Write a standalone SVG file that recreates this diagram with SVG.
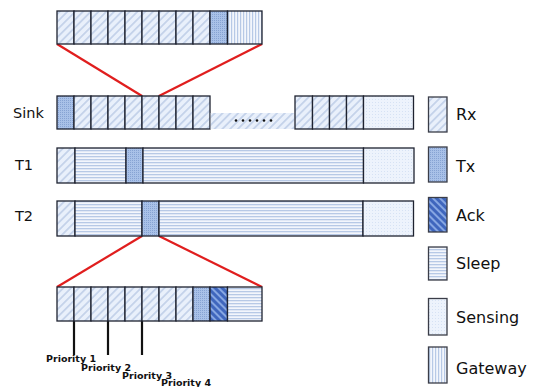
<svg xmlns="http://www.w3.org/2000/svg" width="535" height="387" viewBox="0 0 535 387">
  <defs>
    <!-- Rx: light blue with "/" hatching -->
    <pattern id="pRx" width="5.5" height="5.5" patternUnits="userSpaceOnUse" patternTransform="rotate(45)">
      <rect width="5.5" height="5.5" fill="#e9f0fb"/>
      <rect width="1.8" height="5.5" fill="#c4d2ea"/>
    </pattern>
    <!-- Tx: medium blue, fine dots -->
    <pattern id="pTx" width="2" height="2" patternUnits="userSpaceOnUse">
      <rect width="2" height="2" fill="#a9c1e8"/>
      <rect width="1" height="1" fill="#87a3d3"/>
    </pattern>
    <!-- Ack: strong blue with "\" stripes -->
    <pattern id="pAck" width="5" height="5" patternUnits="userSpaceOnUse" patternTransform="rotate(-45)">
      <rect width="5" height="5" fill="#3f66bd"/>
      <rect width="2" height="5" fill="#86a6e2"/>
    </pattern>
    <!-- Sleep: horizontal lines -->
    <pattern id="pSleep" width="4" height="3" patternUnits="userSpaceOnUse">
      <rect width="4" height="3" fill="#f3f6fc"/>
      <rect width="4" height="1.3" fill="#b7c9e6"/>
    </pattern>
    <!-- Sensing: very light blue, faint dots -->
    <pattern id="pSense" width="3" height="3" patternUnits="userSpaceOnUse">
      <rect width="3" height="3" fill="#edf3fc"/>
      <rect width="1" height="1" fill="#d6e2f4"/>
    </pattern>
    <!-- Gateway: vertical lines -->
    <pattern id="pGw" width="3" height="4" patternUnits="userSpaceOnUse">
      <rect width="3" height="4" fill="#f3f6fc"/>
      <rect width="1.2" height="4" fill="#b7c9e6"/>
    </pattern>
  </defs>
  <style>
    rect.c { stroke: #1e2230; stroke-width: 1.3; }
    .rx { fill: url(#pRx); }
    .tx { fill: url(#pTx); }
    .ack { fill: url(#pAck); }
    .sl { fill: url(#pSleep); }
    .se { fill: url(#pSense); }
    .gw { fill: url(#pGw); }
    rect.lg { stroke: #3a3d48; stroke-width: 1.3; }
    .row { font-family: "DejaVu Sans", "Liberation Sans", sans-serif; font-size: 14.5px; fill: #111; }
    .leg { font-family: "DejaVu Sans", "Liberation Sans", sans-serif; font-size: 16px; fill: #111; }
    .pri { font-family: "DejaVu Sans", "Liberation Sans", sans-serif; font-size: 9.5px; font-weight: bold; fill: #111; }
    .zoom { stroke: #e01e1e; stroke-width: 2.2; fill: none; }
    .tick { stroke: #111; stroke-width: 2.2; }
  </style>

  <!-- connectors: zoom guides and priority markers -->
  <g id="connectors">
    <line class="zoom" x1="57" y1="44" x2="142" y2="96"/>
    <line class="zoom" x1="262" y1="44" x2="159" y2="96"/>
    <line class="zoom" x1="142" y1="236" x2="57" y2="287"/>
    <line class="zoom" x1="159" y1="236" x2="262" y2="287"/>
    <line class="tick" x1="74" y1="321" x2="74" y2="355"/>
    <line class="tick" x1="108" y1="321" x2="108" y2="355"/>
    <line class="tick" x1="142" y1="321" x2="142" y2="355"/>
  </g>

  <!-- expanded slot of the sink frame -->
  <g id="slot-top">
    <rect class="c rx" x="57" y="11" width="17" height="33"/>
    <rect class="c rx" x="74" y="11" width="17" height="33"/>
    <rect class="c rx" x="91" y="11" width="17" height="33"/>
    <rect class="c rx" x="108" y="11" width="17" height="33"/>
    <rect class="c rx" x="125" y="11" width="17" height="33"/>
    <rect class="c rx" x="142" y="11" width="17" height="33"/>
    <rect class="c rx" x="159" y="11" width="17" height="33"/>
    <rect class="c rx" x="176" y="11" width="17" height="33"/>
    <rect class="c rx" x="193" y="11" width="17" height="33"/>
    <rect class="c tx" x="210" y="11" width="17.5" height="33"/>
    <rect class="c gw" x="227.5" y="11" width="34.5" height="33"/>
  </g>

  <!-- Sink frame -->
  <g id="sink">
    <text class="row" x="13" y="118">Sink</text>
    <rect class="c tx" x="57" y="96" width="17" height="33"/>
    <rect class="c rx" x="74" y="96" width="17" height="33"/>
    <rect class="c rx" x="91" y="96" width="17" height="33"/>
    <rect class="c rx" x="108" y="96" width="17" height="33"/>
    <rect class="c rx" x="125" y="96" width="17" height="33"/>
    <rect class="c rx" x="142" y="96" width="17" height="33"/>
    <rect class="c rx" x="159" y="96" width="17" height="33"/>
    <rect class="c rx" x="176" y="96" width="17" height="33"/>
    <rect class="c rx" x="193" y="96" width="17" height="33"/>
    <rect class="rx" x="210.7" y="113" width="83.6" height="16"/>
    <g fill="#111">
      <circle cx="236" cy="120.5" r="1.3"/>
      <circle cx="243" cy="120.5" r="1.3"/>
      <circle cx="250" cy="120.5" r="1.3"/>
      <circle cx="257" cy="120.5" r="1.3"/>
      <circle cx="264" cy="120.5" r="1.3"/>
      <circle cx="271" cy="120.5" r="1.3"/>
    </g>
    <rect class="c rx" x="295" y="96" width="17.5" height="33"/>
    <rect class="c rx" x="312.5" y="96" width="17" height="33"/>
    <rect class="c rx" x="329.5" y="96" width="17" height="33"/>
    <rect class="c rx" x="346.5" y="96" width="17" height="33"/>
    <rect class="c se" x="363.5" y="96" width="50" height="33"/>
  </g>

  <!-- T1 frame -->
  <g id="t1">
    <text class="row" x="15" y="170">T1</text>
    <rect class="c rx" x="57" y="148" width="18" height="35"/>
    <rect class="c sl" x="75" y="148" width="51" height="35"/>
    <rect class="c tx" x="126" y="148" width="17" height="35"/>
    <rect class="c sl" x="143" y="148" width="220.5" height="35"/>
    <rect class="c se" x="363.5" y="148" width="50.5" height="35"/>
  </g>

  <!-- T2 frame -->
  <g id="t2">
    <text class="row" x="15" y="221">T2</text>
    <rect class="c rx" x="57" y="201" width="18" height="35"/>
    <rect class="c sl" x="75" y="201" width="67" height="35"/>
    <rect class="c tx" x="142" y="201" width="17" height="35"/>
    <rect class="c sl" x="159" y="201" width="204" height="35"/>
    <rect class="c se" x="363" y="201" width="50.5" height="35"/>
  </g>

  <!-- expanded slot of T2 -->
  <g id="slot-bottom">
    <rect class="c rx" x="57" y="287" width="17" height="34"/>
    <rect class="c rx" x="74" y="287" width="17" height="34"/>
    <rect class="c rx" x="91" y="287" width="17" height="34"/>
    <rect class="c rx" x="108" y="287" width="17" height="34"/>
    <rect class="c rx" x="125" y="287" width="17" height="34"/>
    <rect class="c rx" x="142" y="287" width="17" height="34"/>
    <rect class="c rx" x="159" y="287" width="17" height="34"/>
    <rect class="c rx" x="176" y="287" width="17" height="34"/>
    <rect class="c tx" x="193" y="287" width="17" height="34"/>
    <rect class="c ack" x="210" y="287" width="17.5" height="34"/>
    <rect class="c sl" x="227.5" y="287" width="34.5" height="34"/>
  </g>

  <!-- priority labels -->
  <g id="priorities">
    <text class="pri" x="46" y="362">Priority 1</text>
    <text class="pri" x="81" y="370.5">Priority 2</text>
    <text class="pri" x="122" y="378.5">Priority 3</text>
    <text class="pri" x="161" y="385.5">Priority 4</text>
  </g>

  <!-- legend -->
  <g id="legend-rx">
    <rect class="lg rx" x="428.5" y="97" width="18.5" height="35"/>
    <text class="leg" x="456" y="120">Rx</text>
  </g>
  <g id="legend-tx">
    <rect class="lg tx" x="428.5" y="147" width="18.5" height="35"/>
    <text class="leg" x="456" y="172">Tx</text>
  </g>
  <g id="legend-ack">
    <rect class="lg ack" x="428.5" y="197.5" width="18.5" height="34.5"/>
    <text class="leg" x="456" y="221">Ack</text>
  </g>
  <g id="legend-sleep">
    <rect class="lg sl" x="428.5" y="247" width="18.5" height="33"/>
    <text class="leg" x="456" y="269">Sleep</text>
  </g>
  <g id="legend-sensing">
    <rect class="lg se" x="428.5" y="298.5" width="18.5" height="36.5"/>
    <text class="leg" x="456" y="323">Sensing</text>
  </g>
  <g id="legend-gateway">
    <rect class="lg gw" x="428.5" y="347" width="18.5" height="36"/>
    <text class="leg" x="456" y="374">Gateway</text>
  </g>
</svg>
